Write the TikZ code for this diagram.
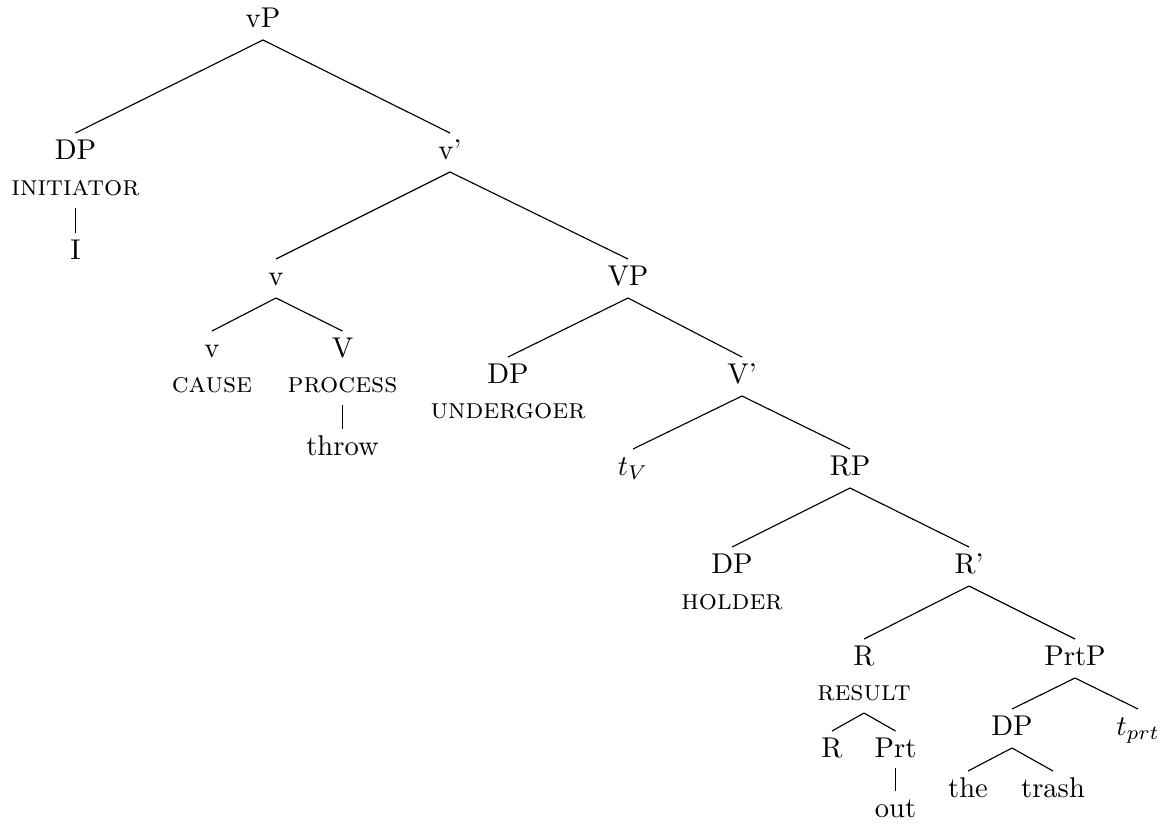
\documentclass[tikz,border=0pt]{standalone}
\usetikzlibrary{calc}
\begin{document}
\begin{tikzpicture}[x=0.35pt,y=-0.35pt,
  lbl/.style={anchor=base,inner sep=0pt,font=\fontsize{10}{12}\selectfont},
  feat/.style={anchor=base,inner sep=0pt,font=\fontsize{10}{12}\selectfont\scshape},
  edge/.style={line width=0.4pt}]
\useasboundingbox (0,0) rectangle (1167,823);
% nodes
\node[lbl] (vP) at (263,27) {vP};
\node[lbl] (DPa) at (75.5,159) {DP};
\node[feat] (init) at (75.5,195) {initiator};
\node[lbl] (I) at (75.5,259) {I};
\node[lbl] (vbar) at (450,159) {v'};
\node[lbl] (v) at (276,285) {v};
\node[lbl] (VP) at (628,285) {VP};
\node[lbl] (vc) at (212,357) {v};
\node[feat] (cause) at (212,392) {cause};
\node[lbl] (V) at (342.5,357) {V};
\node[feat] (proc) at (342.5,392) {process};
\node[lbl] (throw) at (342.5,455) {throw};
\node[lbl] (DPb) at (508,383) {DP};
\node[feat] (und) at (508,418) {undergoer};
\node[lbl] (Vbar) at (742,383) {V'};
\node[lbl] (tV) at (633,475) {$t_V$};
\node[lbl] (RP) at (850,475) {RP};
\node[lbl] (DPc) at (732,573) {DP};
\node[feat] (hold) at (732,609) {holder};
\node[lbl] (Rbar) at (969,573) {R'};
\node[lbl] (R) at (864,665) {R};
\node[feat] (res) at (864,700) {result};
\node[lbl] (Rs) at (832,757) {R};
\node[lbl] (Prt) at (895.5,757) {Prt};
\node[lbl] (out) at (895.5,817) {out};
\node[lbl] (PrtP) at (1075,665) {PrtP};
\node[lbl] (DPd) at (1012,735) {DP};
\node[lbl] (tprt) at (1138,735) {$t_{prt}$};
\node[lbl] (the) at (968,797) {the};
\node[lbl] (trash) at (1053,797) {trash};
% connectors
\newcommand{\br}[2]{\draw[edge] ($(#1.base)+(0,13)$) -- ($(#2.base)+(0,-26)$);}
\br{vP}{DPa}
\br{vP}{vbar}
\br{init}{I}
\br{vbar}{v}
\br{vbar}{VP}
\br{v}{vc}
\br{v}{V}
\br{proc}{throw}
\br{VP}{DPb}
\br{VP}{Vbar}
\br{Vbar}{tV}
\br{Vbar}{RP}
\br{RP}{DPc}
\br{RP}{Rbar}
\br{Rbar}{R}
\br{Rbar}{PrtP}
\br{res}{Rs}
\br{res}{Prt}
\draw[edge] ($(Prt.base)+(0,11)$) -- ($(out.base)+(0,-26)$);
\br{PrtP}{DPd}
\br{PrtP}{tprt}
\br{DPd}{the}
\br{DPd}{trash}
\end{tikzpicture}
\end{document}
